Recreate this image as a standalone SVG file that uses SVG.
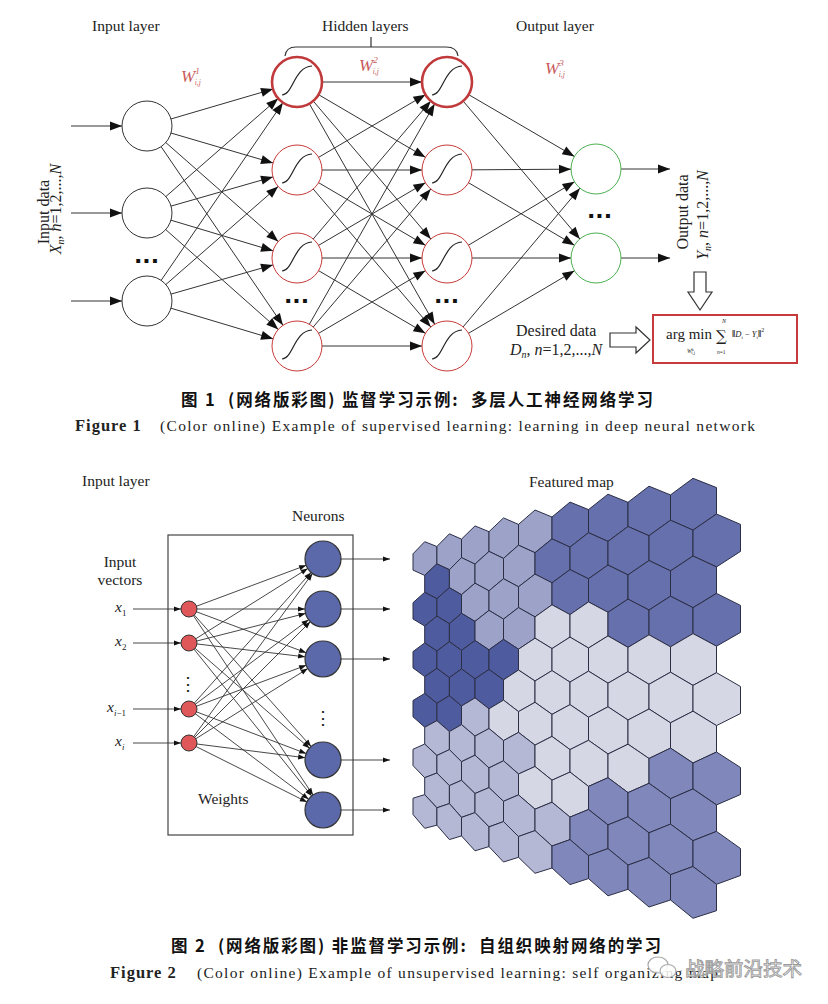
<svg xmlns="http://www.w3.org/2000/svg" width="828" height="1004" viewBox="0 0 828 1004">
<defs>
<style>
.t{font-family:"Liberation Serif","Times New Roman",serif;fill:#222}
.it{font-style:italic}
.w{font-family:"Liberation Serif",serif;font-style:italic;fill:#c85a5a}
.cj{font-family:"Noto Sans CJK SC","Noto Sans",sans-serif;font-weight:bold;fill:#111;white-space:pre}
.ln{stroke:#333;stroke-width:1;fill:none}
.ln2{stroke:#333;stroke-width:0.9;fill:none}
.in{fill:#fff;stroke:#333;stroke-width:1}
.hid{fill:#fff;stroke:#c83a3a;stroke-width:1}
.hidb{fill:#fff;stroke:#c0393b;stroke-width:2.6}
.out{fill:#fff;stroke:#4caf50;stroke-width:1}
.sig{fill:none;stroke:#222;stroke-width:1.2}
.dots{font-family:"DejaVu Sans",sans-serif;font-weight:bold;fill:#111}
.red{fill:#e0575a;stroke:#333;stroke-width:1}
.blue{fill:#5b68a9;stroke:#333;stroke-width:1.2}
.hex polygon{stroke:#2b2e45;stroke-width:1}
.D{fill:#4f5b9f}.M{fill:#6570ac}.L{fill:#9da2c9}.V{fill:#d6d7e5}.E{fill:#b5b8d5}.B{fill:#7f87bb}
</style>
<marker id="m25" markerUnits="userSpaceOnUse" viewBox="-40 -10 40 20" markerWidth="40" markerHeight="20" refX="0" refY="0" orient="auto"><path d="M-25,0 L-37,-4.5 L-37,4.5 Z" fill="#111"/></marker>
<marker id="m0" markerUnits="userSpaceOnUse" viewBox="-14 -6 14 12" markerWidth="14" markerHeight="12" refX="0" refY="0" orient="auto"><path d="M0,0 L-12,-4.5 L-12,4.5 Z" fill="#111"/></marker>
<marker id="m18" markerUnits="userSpaceOnUse" viewBox="-28 -5 28 10" markerWidth="28" markerHeight="10" refX="0" refY="0" orient="auto"><path d="M-18,0 L-25,-2.6 L-25,2.6 Z" fill="#111"/></marker>
<marker id="m8" markerUnits="userSpaceOnUse" viewBox="-18 -5 18 10" markerWidth="18" markerHeight="10" refX="0" refY="0" orient="auto"><path d="M-8,0 L-15,-2.6 L-15,2.6 Z" fill="#111"/></marker>
<marker id="m0s" markerUnits="userSpaceOnUse" viewBox="-9 -5 9 10" markerWidth="9" markerHeight="10" refX="0" refY="0" orient="auto"><path d="M0,0 L-7,-2.6 L-7,2.6 Z" fill="#111"/></marker>
<path id="sig" class="sig" d="M-15,13 C-4,13 -3,-15 15,-16"/>
</defs>
<rect width="828" height="1004" fill="#fff"/>

<!-- ============ FIGURE 1 ============ -->
<g id="fig1-labels">
<text class="t" font-size="15.5" x="92" y="31">Input layer</text>
<text class="t" font-size="15.5" x="322" y="31">Hidden layers</text>
<text class="t" font-size="15.5" x="516" y="31">Output layer</text>
<path d="M285,56 Q286,47 296,47 L446,47 Q457,47 458,56 M371,47 L371,37" fill="none" stroke="#333" stroke-width="1.2"/>
<text class="w" font-size="17" x="181" y="82">W<tspan font-size="9" dy="-8">1</tspan><tspan font-size="7.5" dx="-5" dy="11">i,j</tspan></text>
<text class="w" font-size="17" x="359" y="71">W<tspan font-size="9" dy="-8">2</tspan><tspan font-size="7.5" dx="-5" dy="11">i,j</tspan></text>
<text class="w" font-size="17" x="545" y="74">W<tspan font-size="9" dy="-8">3</tspan><tspan font-size="7.5" dx="-5" dy="11">i,j</tspan></text>
<text class="t" font-size="16" transform="translate(49,212) rotate(-90)" text-anchor="middle">Input data</text>
<text class="t" font-size="16" transform="translate(61,209) rotate(-90)" text-anchor="middle"><tspan class="it">X</tspan><tspan class="it" font-size="10" dy="3">n</tspan><tspan dy="-3">, </tspan><tspan class="it">n</tspan>=1,2,...,<tspan class="it">N</tspan></text>
<text class="t" font-size="16" transform="translate(688,212) rotate(-90)" text-anchor="middle">Output data</text>
<text class="t" font-size="16" transform="translate(708,215) rotate(-90)" text-anchor="middle"><tspan class="it">Y</tspan><tspan class="it" font-size="10" dy="3">n</tspan><tspan dy="-3">, </tspan><tspan class="it">n</tspan>=1,2,...,<tspan class="it">N</tspan></text>
<text class="t" font-size="16" x="516" y="336">Desired data</text>
<text class="t" font-size="16" x="510" y="355"><tspan class="it">D</tspan><tspan class="it" font-size="10" dy="3">n</tspan><tspan dy="-3">, </tspan><tspan class="it">n</tspan>=1,2,...,<tspan class="it">N</tspan></text>
<text class="dots" font-size="22" x="134" y="263">...</text>
<text class="dots" font-size="22" x="284" y="303">...</text>
<text class="dots" font-size="22" x="434" y="303">...</text>
<text class="dots" font-size="22" x="587" y="218">...</text>
</g>

<g id="fig1-connectors" class="ln">
<line x1="71" y1="126" x2="147" y2="126" marker-end="url(#m25)"/>
<line x1="71" y1="213" x2="147" y2="213" marker-end="url(#m25)"/>
<line x1="71" y1="301" x2="147" y2="301" marker-end="url(#m25)"/>
<line x1="147" y1="126" x2="297" y2="82" marker-end="url(#m25)"/>
<line x1="147" y1="126" x2="297" y2="170" marker-end="url(#m25)"/>
<line x1="147" y1="126" x2="297" y2="258" marker-end="url(#m25)"/>
<line x1="147" y1="126" x2="297" y2="346" marker-end="url(#m25)"/>
<line x1="147" y1="213" x2="297" y2="82" marker-end="url(#m25)"/>
<line x1="147" y1="213" x2="297" y2="170" marker-end="url(#m25)"/>
<line x1="147" y1="213" x2="297" y2="258" marker-end="url(#m25)"/>
<line x1="147" y1="213" x2="297" y2="346" marker-end="url(#m25)"/>
<line x1="147" y1="301" x2="297" y2="82" marker-end="url(#m25)"/>
<line x1="147" y1="301" x2="297" y2="170" marker-end="url(#m25)"/>
<line x1="147" y1="301" x2="297" y2="258" marker-end="url(#m25)"/>
<line x1="147" y1="301" x2="297" y2="346" marker-end="url(#m25)"/>
<line x1="297" y1="82" x2="447" y2="82" marker-end="url(#m25)"/>
<line x1="297" y1="82" x2="447" y2="170" marker-end="url(#m25)"/>
<line x1="297" y1="82" x2="447" y2="258" marker-end="url(#m25)"/>
<line x1="297" y1="82" x2="447" y2="346" marker-end="url(#m25)"/>
<line x1="297" y1="170" x2="447" y2="82" marker-end="url(#m25)"/>
<line x1="297" y1="170" x2="447" y2="170" marker-end="url(#m25)"/>
<line x1="297" y1="170" x2="447" y2="258" marker-end="url(#m25)"/>
<line x1="297" y1="170" x2="447" y2="346" marker-end="url(#m25)"/>
<line x1="297" y1="258" x2="447" y2="82" marker-end="url(#m25)"/>
<line x1="297" y1="258" x2="447" y2="170" marker-end="url(#m25)"/>
<line x1="297" y1="258" x2="447" y2="258" marker-end="url(#m25)"/>
<line x1="297" y1="258" x2="447" y2="346" marker-end="url(#m25)"/>
<line x1="297" y1="346" x2="447" y2="82" marker-end="url(#m25)"/>
<line x1="297" y1="346" x2="447" y2="170" marker-end="url(#m25)"/>
<line x1="297" y1="346" x2="447" y2="258" marker-end="url(#m25)"/>
<line x1="297" y1="346" x2="447" y2="346" marker-end="url(#m25)"/>
<line x1="447" y1="82" x2="596" y2="169" marker-end="url(#m25)"/>
<line x1="447" y1="82" x2="596" y2="258" marker-end="url(#m25)"/>
<line x1="447" y1="170" x2="596" y2="169" marker-end="url(#m25)"/>
<line x1="447" y1="170" x2="596" y2="258" marker-end="url(#m25)"/>
<line x1="447" y1="258" x2="596" y2="169" marker-end="url(#m25)"/>
<line x1="447" y1="258" x2="596" y2="258" marker-end="url(#m25)"/>
<line x1="447" y1="346" x2="596" y2="169" marker-end="url(#m25)"/>
<line x1="447" y1="346" x2="596" y2="258" marker-end="url(#m25)"/>
<line x1="596" y1="169" x2="670" y2="169" marker-end="url(#m0)"/>
<line x1="596" y1="258" x2="670" y2="258" marker-end="url(#m0)"/>
</g>

<g id="in1"><circle class="in" cx="147" cy="126" r="25"/></g>
<g id="in2"><circle class="in" cx="147" cy="213" r="25"/></g>
<g id="in3"><circle class="in" cx="147" cy="301" r="25"/></g>
<g id="h1-1"><circle class="hidb" cx="297" cy="82" r="25"/><use href="#sig" x="297" y="82"/></g>
<g id="h1-2"><circle class="hid" cx="297" cy="170" r="25"/><use href="#sig" x="297" y="170"/></g>
<g id="h1-3"><circle class="hid" cx="297" cy="258" r="25"/><use href="#sig" x="297" y="258"/></g>
<g id="h1-4"><circle class="hid" cx="297" cy="346" r="25"/><use href="#sig" x="297" y="346"/></g>
<g id="h2-1"><circle class="hidb" cx="447" cy="82" r="25"/><use href="#sig" x="447" y="82"/></g>
<g id="h2-2"><circle class="hid" cx="447" cy="170" r="25"/><use href="#sig" x="447" y="170"/></g>
<g id="h2-3"><circle class="hid" cx="447" cy="258" r="25"/><use href="#sig" x="447" y="258"/></g>
<g id="h2-4"><circle class="hid" cx="447" cy="346" r="25"/><use href="#sig" x="447" y="346"/></g>
<g id="out1"><circle class="out" cx="596" cy="169" r="25"/></g>
<g id="out2"><circle class="out" cx="596" cy="258" r="25"/></g>

<g id="hollow-arrows" fill="#fff" stroke="#333" stroke-width="1.2">
<path d="M694,272 L706,272 L706,292 L712,292 L700,310 L688,292 L694,292 Z"/>
<path d="M610,333 L636,333 L636,327 L650,340 L636,353 L636,347 L610,347 Z"/>
</g>

<g id="formula-box">
<rect x="653" y="315" width="144" height="48" fill="#fff" stroke="#c8393b" stroke-width="2"/>
<text class="t" x="666" y="339" font-size="15">arg min</text>
<text x="716" y="341" font-family="DejaVu Serif,serif" font-size="15" fill="#222">∑</text>
<text class="t it" x="722" y="323" font-size="6">N</text>
<text class="t" x="717" y="354" font-size="5.5"><tspan class="it">n</tspan>=1</text>
<text class="t" x="687" y="353" font-size="5.5"><tspan class="it">W</tspan><tspan font-size="4.5" dy="-2.5">k</tspan><tspan font-size="4.5" dx="-2.5" dy="3">i,j</tspan></text>
<text class="t" x="732" y="337" font-size="10"><tspan font-weight="bold">‖</tspan><tspan class="it" font-size="8.5">D</tspan><tspan font-size="5" dy="1.5">i</tspan><tspan font-size="8.5" dy="-1.5"> − </tspan><tspan class="it" font-size="8.5">Y</tspan><tspan font-size="5" dy="1.5">i</tspan><tspan font-weight="bold" dy="-1.5">‖</tspan><tspan font-size="6" dy="-5">2</tspan></text>
</g>

<g id="caption1">
<text class="cj" font-size="16.5" x="181" y="406" textLength="472" lengthAdjust="spacing">图 1  (网络版彩图) 监督学习示例:  多层人工神经网络学习</text>
<text class="t" y="431"><tspan x="75" font-weight="bold" font-size="16.5" letter-spacing="1">Figure 1</tspan><tspan x="160" font-size="15.5" textLength="595" lengthAdjust="spacing">(Color online) Example of supervised learning: learning in deep neural network</tspan></text>
</g>

<!-- ============ FIGURE 2 ============ -->
<g id="fig2-labels">
<text class="t" font-size="15.5" x="82" y="486">Input layer</text>
<text class="t" font-size="15.5" x="529" y="487">Featured map</text>
<text class="t" font-size="15.5" x="292" y="521">Neurons</text>
<text class="t" font-size="15.5" x="120" y="567" text-anchor="middle">Input</text>
<text class="t" font-size="15.5" x="120" y="585" text-anchor="middle">vectors</text>
<text class="t" font-size="15.5" x="198" y="804">Weights</text>
<text class="t it" font-size="15.5" x="115" y="612">x<tspan font-size="9" font-style="normal" dy="4">1</tspan></text>
<text class="t it" font-size="15.5" x="115" y="646">x<tspan font-size="9" font-style="normal" dy="4">2</tspan></text>
<text class="t it" font-size="15.5" x="107" y="712">x<tspan font-size="9" dy="4">i</tspan><tspan font-size="9" font-style="normal">−1</tspan></text>
<text class="t it" font-size="15.5" x="115" y="746">x<tspan font-size="9" dy="4">i</tspan></text>
<text class="t" x="188" y="690" font-size="18" text-anchor="middle">⋮</text>
<text class="t" x="323" y="724" font-size="18" text-anchor="middle">⋮</text>
</g>

<rect id="weights-box" x="168" y="535" width="185" height="300" fill="none" stroke="#444" stroke-width="1.2"/>

<g id="fig2-connectors" class="ln2">
<line x1="133" y1="609" x2="189" y2="609" marker-end="url(#m8)"/>
<line x1="133" y1="643" x2="189" y2="643" marker-end="url(#m8)"/>
<line x1="133" y1="709" x2="189" y2="709" marker-end="url(#m8)"/>
<line x1="133" y1="743" x2="189" y2="743" marker-end="url(#m8)"/>
<line x1="189" y1="609" x2="323" y2="559" marker-end="url(#m18)"/>
<line x1="189" y1="609" x2="323" y2="609" marker-end="url(#m18)"/>
<line x1="189" y1="609" x2="323" y2="659" marker-end="url(#m18)"/>
<line x1="189" y1="609" x2="323" y2="760" marker-end="url(#m18)"/>
<line x1="189" y1="609" x2="323" y2="810" marker-end="url(#m18)"/>
<line x1="189" y1="643" x2="323" y2="559" marker-end="url(#m18)"/>
<line x1="189" y1="643" x2="323" y2="609" marker-end="url(#m18)"/>
<line x1="189" y1="643" x2="323" y2="659" marker-end="url(#m18)"/>
<line x1="189" y1="643" x2="323" y2="760" marker-end="url(#m18)"/>
<line x1="189" y1="643" x2="323" y2="810" marker-end="url(#m18)"/>
<line x1="189" y1="709" x2="323" y2="559" marker-end="url(#m18)"/>
<line x1="189" y1="709" x2="323" y2="609" marker-end="url(#m18)"/>
<line x1="189" y1="709" x2="323" y2="659" marker-end="url(#m18)"/>
<line x1="189" y1="709" x2="323" y2="760" marker-end="url(#m18)"/>
<line x1="189" y1="709" x2="323" y2="810" marker-end="url(#m18)"/>
<line x1="189" y1="743" x2="323" y2="559" marker-end="url(#m18)"/>
<line x1="189" y1="743" x2="323" y2="609" marker-end="url(#m18)"/>
<line x1="189" y1="743" x2="323" y2="659" marker-end="url(#m18)"/>
<line x1="189" y1="743" x2="323" y2="760" marker-end="url(#m18)"/>
<line x1="189" y1="743" x2="323" y2="810" marker-end="url(#m18)"/>
<line x1="323" y1="559" x2="390" y2="559" marker-end="url(#m0s)"/>
<line x1="323" y1="609" x2="390" y2="609" marker-end="url(#m0s)"/>
<line x1="323" y1="659" x2="390" y2="659" marker-end="url(#m0s)"/>
<line x1="323" y1="760" x2="390" y2="760" marker-end="url(#m0s)"/>
<line x1="323" y1="810" x2="390" y2="810" marker-end="url(#m0s)"/>
</g>

<g id="x1"><circle class="red" cx="189" cy="609" r="8"/></g>
<g id="x2"><circle class="red" cx="189" cy="643" r="8"/></g>
<g id="xi-1"><circle class="red" cx="189" cy="709" r="8"/></g>
<g id="xi"><circle class="red" cx="189" cy="743" r="8"/></g>
<g id="n1"><circle class="blue" cx="323" cy="559" r="18"/></g>
<g id="n2"><circle class="blue" cx="323" cy="609" r="18"/></g>
<g id="n3"><circle class="blue" cx="323" cy="659" r="18"/></g>
<g id="n4"><circle class="blue" cx="323" cy="760" r="18"/></g>
<g id="n5"><circle class="blue" cx="323" cy="810" r="18"/></g>

<g id="featured-map" class="hex">
<polygon class="L" points="424.7,541.7 436.9,546.5 436.9,563.9 424.7,575.4 413,570.1 413,553.8"/>
<polygon class="L" points="449.4,533.8 461.5,539.1 461.5,557.6 449.4,569.7 436.9,563.9 436.9,546.5"/>
<polygon class="L" points="475,525.9 489,531.7 489,551.4 475,564.1 461.5,557.6 461.5,539.1"/>
<polygon class="L" points="503.5,517.9 518.5,524.4 518.5,545.2 503.5,558.4 489,551.4 489,531.7"/>
<polygon class="L" points="535,510 552,517 552,538.9 535,552.7 518.5,545.2 518.5,524.4"/>
<polygon class="M" points="570,502.1 588.5,509.6 588.5,532.7 570,547.1 552,538.9 552,517"/>
<polygon class="M" points="608,494.2 628,502.3 628,526.5 608,541.4 588.5,532.7 588.5,509.6"/>
<polygon class="M" points="649,486.2 670.5,494.9 670.5,520.2 649,535.7 628,526.5 628,502.3"/>
<polygon class="M" points="693,478.3 716.5,487.6 716.5,514 693,530.1 670.5,520.2 670.5,494.9"/>
<polygon class="D" points="436.9,563.9 449.4,569.7 449.4,587.7 436.9,598.7 424.7,592.3 424.7,575.4"/>
<polygon class="L" points="461.5,557.6 475,564.1 475,583.2 461.5,594.7 449.4,587.7 449.4,569.7"/>
<polygon class="L" points="489,551.4 503.5,558.4 503.5,578.7 489,590.8 475,583.2 475,564.1"/>
<polygon class="L" points="518.5,545.2 535,552.7 535,574.1 518.5,586.8 503.5,578.7 503.5,558.4"/>
<polygon class="M" points="552,538.9 570,547.1 570,569.6 552,582.8 535,574.1 535,552.7"/>
<polygon class="M" points="588.5,532.7 608,541.4 608,565 588.5,578.8 570,569.6 570,547.1"/>
<polygon class="M" points="628,526.5 649,535.7 649,560.5 628,574.9 608,565 608,541.4"/>
<polygon class="M" points="670.5,520.2 693,530.1 693,556 670.5,570.9 649,560.5 649,535.7"/>
<polygon class="M" points="716.5,514 740.5,524.4 740.5,551.4 716.5,566.9 693,556 693,530.1"/>
<polygon class="D" points="424.7,592.3 436.9,598.7 436.9,616.1 424.7,626 413,619 413,602.7"/>
<polygon class="D" points="449.4,587.7 461.5,594.7 461.5,613.3 449.4,623.7 436.9,616.1 436.9,598.7"/>
<polygon class="L" points="475,583.2 489,590.8 489,610.4 475,621.4 461.5,613.3 461.5,594.7"/>
<polygon class="L" points="503.5,578.7 518.5,586.8 518.5,607.6 503.5,619.1 489,610.4 489,590.8"/>
<polygon class="L" points="535,574.1 552,582.8 552,604.8 535,616.9 518.5,607.6 518.5,586.8"/>
<polygon class="M" points="570,569.6 588.5,578.8 588.5,601.9 570,614.6 552,604.8 552,582.8"/>
<polygon class="M" points="608,565 628,574.9 628,599.1 608,612.3 588.5,601.9 588.5,578.8"/>
<polygon class="M" points="649,560.5 670.5,570.9 670.5,596.2 649,610 628,599.1 628,574.9"/>
<polygon class="M" points="693,556 716.5,566.9 716.5,593.4 693,607.7 670.5,596.2 670.5,570.9"/>
<polygon class="D" points="436.9,616.1 449.4,623.7 449.4,641.7 436.9,651 424.7,642.9 424.7,626"/>
<polygon class="D" points="461.5,613.3 475,621.4 475,640.5 461.5,650.4 449.4,641.7 449.4,623.7"/>
<polygon class="L" points="489,610.4 503.5,619.1 503.5,639.4 489,649.8 475,640.5 475,621.4"/>
<polygon class="L" points="518.5,607.6 535,616.9 535,638.2 518.5,649.2 503.5,639.4 503.5,619.1"/>
<polygon class="V" points="552,604.8 570,614.6 570,637.1 552,648.6 535,638.2 535,616.9"/>
<polygon class="V" points="588.5,601.9 608,612.3 608,635.9 588.5,648 570,637.1 570,614.6"/>
<polygon class="M" points="628,599.1 649,610 649,634.8 628,647.4 608,635.9 608,612.3"/>
<polygon class="M" points="670.5,596.2 693,607.7 693,633.6 670.5,646.8 649,634.8 649,610"/>
<polygon class="M" points="716.5,593.4 740.5,605.4 740.5,632.4 716.5,646.2 693,633.6 693,607.7"/>
<polygon class="D" points="424.7,642.9 436.9,651 436.9,668.4 424.7,676.6 413,667.9 413,651.6"/>
<polygon class="D" points="449.4,641.7 461.5,650.4 461.5,668.9 449.4,677.7 436.9,668.4 436.9,651"/>
<polygon class="D" points="475,640.5 489,649.8 489,669.5 475,678.8 461.5,668.9 461.5,650.4"/>
<polygon class="D" points="503.5,639.4 518.5,649.2 518.5,670 503.5,679.9 489,669.5 489,649.8"/>
<polygon class="V" points="535,638.2 552,648.6 552,670.6 535,681 518.5,670 518.5,649.2"/>
<polygon class="V" points="570,637.1 588.5,648 588.5,671.1 570,682.1 552,670.6 552,648.6"/>
<polygon class="V" points="608,635.9 628,647.4 628,671.6 608,683.2 588.5,671.1 588.5,648"/>
<polygon class="V" points="649,634.8 670.5,646.8 670.5,672.2 649,684.3 628,671.6 628,647.4"/>
<polygon class="V" points="693,633.6 716.5,646.2 716.5,672.7 693,685.4 670.5,672.2 670.5,646.8"/>
<polygon class="D" points="436.9,668.4 449.4,677.7 449.4,695.7 436.9,703.3 424.7,693.4 424.7,676.6"/>
<polygon class="D" points="461.5,668.9 475,678.8 475,697.9 461.5,706 449.4,695.7 449.4,677.7"/>
<polygon class="D" points="489,669.5 503.5,679.9 503.5,700.1 489,708.8 475,697.9 475,678.8"/>
<polygon class="V" points="518.5,670 535,681 535,702.3 518.5,711.6 503.5,700.1 503.5,679.9"/>
<polygon class="V" points="552,670.6 570,682.1 570,704.6 552,714.4 535,702.3 535,681"/>
<polygon class="V" points="588.5,671.1 608,683.2 608,706.8 588.5,717.2 570,704.6 570,682.1"/>
<polygon class="V" points="628,671.6 649,684.3 649,709 628,720 608,706.8 608,683.2"/>
<polygon class="V" points="670.5,672.2 693,685.4 693,711.2 670.5,722.8 649,709 649,684.3"/>
<polygon class="V" points="716.5,672.7 740.5,686.5 740.5,713.5 716.5,725.6 693,711.2 693,685.4"/>
<polygon class="D" points="424.7,693.4 436.9,703.3 436.9,720.7 424.7,727.2 413,716.8 413,700.5"/>
<polygon class="D" points="449.4,695.7 461.5,706 461.5,724.6 449.4,731.6 436.9,720.7 436.9,703.3"/>
<polygon class="E" points="475,697.9 489,708.8 489,728.5 475,736.1 461.5,724.6 461.5,706"/>
<polygon class="V" points="503.5,700.1 518.5,711.6 518.5,732.4 503.5,740.6 489,728.5 489,708.8"/>
<polygon class="V" points="535,702.3 552,714.4 552,736.4 535,745.1 518.5,732.4 518.5,711.6"/>
<polygon class="V" points="570,704.6 588.5,717.2 588.5,740.3 570,749.6 552,736.4 552,714.4"/>
<polygon class="V" points="608,706.8 628,720 628,744.2 608,754 588.5,740.3 588.5,717.2"/>
<polygon class="V" points="649,709 670.5,722.8 670.5,748.1 649,758.5 628,744.2 628,720"/>
<polygon class="V" points="693,711.2 716.5,725.6 716.5,752 693,763 670.5,748.1 670.5,722.8"/>
<polygon class="E" points="436.9,720.7 449.4,731.6 449.4,749.6 436.9,755.5 424.7,744 424.7,727.2"/>
<polygon class="E" points="461.5,724.6 475,736.1 475,755.2 461.5,761.7 449.4,749.6 449.4,731.6"/>
<polygon class="E" points="489,728.5 503.5,740.6 503.5,760.8 489,767.9 475,755.2 475,736.1"/>
<polygon class="E" points="518.5,732.4 535,745.1 535,766.5 518.5,774 503.5,760.8 503.5,740.6"/>
<polygon class="V" points="552,736.4 570,749.6 570,772.1 552,780.2 535,766.5 535,745.1"/>
<polygon class="V" points="588.5,740.3 608,754 608,777.7 588.5,786.4 570,772.1 570,749.6"/>
<polygon class="V" points="628,744.2 649,758.5 649,783.3 628,792.6 608,777.7 608,754"/>
<polygon class="B" points="670.5,748.1 693,763 693,788.9 670.5,798.7 649,783.3 649,758.5"/>
<polygon class="B" points="716.5,752 740.5,767.5 740.5,794.5 716.5,804.9 693,788.9 693,763"/>
<polygon class="E" points="424.7,744 436.9,755.5 436.9,773 424.7,777.7 413,765.6 413,749.3"/>
<polygon class="E" points="449.4,749.6 461.5,761.7 461.5,780.3 449.4,785.6 436.9,773 436.9,755.5"/>
<polygon class="E" points="475,755.2 489,767.9 489,787.6 475,793.5 461.5,780.3 461.5,761.7"/>
<polygon class="E" points="503.5,760.8 518.5,774 518.5,794.9 503.5,801.3 489,787.6 489,767.9"/>
<polygon class="V" points="535,766.5 552,780.2 552,802.2 535,809.2 518.5,794.9 518.5,774"/>
<polygon class="V" points="570,772.1 588.5,786.4 588.5,809.5 570,817.1 552,802.2 552,780.2"/>
<polygon class="B" points="608,777.7 628,792.6 628,816.8 608,824.9 588.5,809.5 588.5,786.4"/>
<polygon class="B" points="649,783.3 670.5,798.7 670.5,824.1 649,832.8 628,816.8 628,792.6"/>
<polygon class="B" points="693,788.9 716.5,804.9 716.5,831.4 693,840.7 670.5,824.1 670.5,798.7"/>
<polygon class="E" points="436.9,773 449.4,785.6 449.4,803.6 436.9,807.8 424.7,794.6 424.7,777.7"/>
<polygon class="E" points="461.5,780.3 475,793.5 475,812.6 461.5,817.4 449.4,803.6 449.4,785.6"/>
<polygon class="E" points="489,787.6 503.5,801.3 503.5,821.6 489,826.9 475,812.6 475,793.5"/>
<polygon class="E" points="518.5,794.9 535,809.2 535,830.6 518.5,836.5 503.5,821.6 503.5,801.3"/>
<polygon class="E" points="552,802.2 570,817.1 570,839.6 552,846 535,830.6 535,809.2"/>
<polygon class="B" points="588.5,809.5 608,824.9 608,848.6 588.5,855.6 570,839.6 570,817.1"/>
<polygon class="B" points="628,816.8 649,832.8 649,857.5 628,865.1 608,848.6 608,824.9"/>
<polygon class="B" points="670.5,824.1 693,840.7 693,866.5 670.5,874.7 649,857.5 649,832.8"/>
<polygon class="B" points="716.5,831.4 740.5,848.5 740.5,875.5 716.5,884.3 693,866.5 693,840.7"/>
<polygon class="E" points="424.7,794.6 436.9,807.8 436.9,825.2 424.7,828.3 413,814.5 413,798.2"/>
<polygon class="E" points="449.4,803.6 461.5,817.4 461.5,835.9 449.4,839.6 436.9,825.2 436.9,807.8"/>
<polygon class="E" points="475,812.6 489,826.9 489,846.6 475,850.8 461.5,835.9 461.5,817.4"/>
<polygon class="E" points="503.5,821.6 518.5,836.5 518.5,857.3 503.5,862 489,846.6 489,826.9"/>
<polygon class="E" points="535,830.6 552,846 552,868 535,873.3 518.5,857.3 518.5,836.5"/>
<polygon class="B" points="570,839.6 588.5,855.6 588.5,878.6 570,884.6 552,868 552,846"/>
<polygon class="B" points="608,848.6 628,865.1 628,889.3 608,895.8 588.5,878.6 588.5,855.6"/>
<polygon class="B" points="649,857.5 670.5,874.7 670.5,900 649,907 628,889.3 628,865.1"/>
<polygon class="B" points="693,866.5 716.5,884.3 716.5,910.7 693,918.3 670.5,900 670.5,874.7"/>
</g>

<g id="caption2">
<text class="cj" font-size="16.5" x="171" y="952" textLength="490" lengthAdjust="spacing">图 2  (网络版彩图) 非监督学习示例:  自组织映射网络的学习</text>
<text class="t" y="978"><tspan x="110" font-weight="bold" font-size="16.5" letter-spacing="1">Figure 2</tspan><tspan x="197" font-size="15.5" textLength="521" lengthAdjust="spacing">(Color online) Example of unsupervised learning: self organizing map</tspan></text>
</g>

<g id="watermark">
<ellipse cx="658" cy="965" rx="10" ry="8" fill="#fff" fill-opacity="0.85" stroke="#aaa" stroke-width="1.2"/>
<ellipse cx="668" cy="971" rx="8" ry="6.5" fill="#fff" fill-opacity="0.85" stroke="#aaa" stroke-width="1.2"/>
<text x="685" y="976" font-family="Noto Sans CJK SC,sans-serif" font-size="19.5" fill="#fff" stroke="#999" stroke-width="0.9">战略前沿技术</text>
</g>
</svg>
